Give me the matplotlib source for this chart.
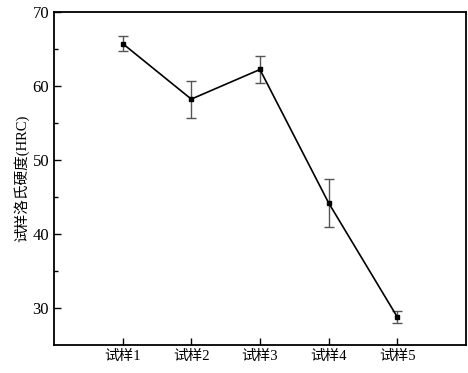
import numpy as np
import matplotlib.pyplot as plt

plt.rcParams['font.family'] = ['Liberation Serif', 'Noto Sans CJK SC']

samples = ['试样1', '试样2', '试样3', '试样4', '试样5']
hardness = [65.7, 58.2, 62.2, 44.2, 28.8]
errors = [1.0, 2.5, 1.85, 3.25, 0.8]

fig = plt.figure(figsize=(4.68, 3.73), dpi=100)
ax = fig.add_axes([0.1154, 0.075, 0.88, 0.8936])

x = np.arange(1, len(samples) + 1)
ax.errorbar(x, hardness, yerr=errors, color='black', lw=1.2, marker='s', ms=3.5,
            ecolor='#555555', elinewidth=1.0, capsize=3.5, capthick=1.0)

ax.set_xlim(0, 6)
ax.set_ylim(25, 70)
ax.set_xticks(x)
ax.set_xticklabels(samples, fontsize=10.5)
ax.set_yticks([30, 40, 50, 60, 70])
ax.set_yticks([35, 45, 55, 65], minor=True)
ax.tick_params(axis='both', direction='in', length=5, width=1)
ax.tick_params(axis='y', labelsize=12)
ax.tick_params(axis='y', which='minor', direction='in', length=3, width=1)
ax.set_ylabel('试样洛氏硬度(HRC)', fontsize=10.5, labelpad=2)
for s in ax.spines.values():
    s.set_linewidth(1.3)

fig.savefig('out.png', dpi=100)
